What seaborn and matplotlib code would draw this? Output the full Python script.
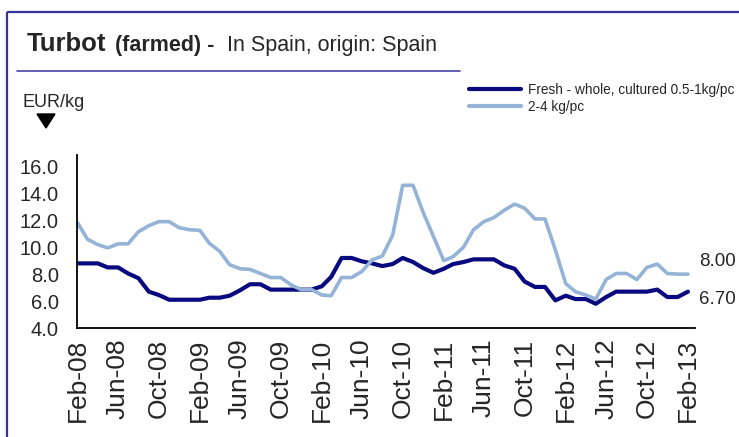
import pandas as pd
import numpy as np
import matplotlib.pyplot as plt
import seaborn as sns
from matplotlib.lines import Line2D
from matplotlib.patches import Polygon
from matplotlib.ticker import FormatStrFormatter

# monthly prices, Feb-08 .. Feb-13 (EUR/kg)
months = pd.date_range("2008-02-01", periods=61, freq="MS")
fresh_small = [8.8, 8.8, 8.8, 8.5, 8.5, 8.05, 7.7, 6.7, 6.45, 6.1,
               6.1, 6.1, 6.1, 6.25, 6.25, 6.4, 6.8, 7.25, 7.25, 6.85,
               6.85, 6.85, 6.85, 6.85, 7.1, 7.8, 9.2, 9.2, 8.95, 8.8,
               8.6, 8.75, 9.2, 8.9, 8.45, 8.1, 8.4, 8.75, 8.9, 9.1,
               9.1, 9.1, 8.65, 8.4, 7.45, 7.05, 7.05, 6.05, 6.4, 6.15,
               6.15, 5.8, 6.3, 6.7, 6.7, 6.7, 6.7, 6.85, 6.3, 6.3,
               6.7]
fresh_large = [11.8, 10.6, 10.2, 9.95, 10.25, 10.25, 11.15, 11.6, 11.9, 11.9,
               11.45, 11.3, 11.25, 10.3, 9.7, 8.7, 8.4, 8.35, 8.05, 7.75,
               7.75, 7.2, 6.85, 6.85, 6.45, 6.4, 7.75, 7.75, 8.2, 9.05,
               9.35, 10.9, 14.6, 14.6, 12.6, 10.8, 9.0, 9.3, 10.0, 11.3,
               11.9, 12.2, 12.75, 13.2, 12.9, 12.1, 12.1, 9.8, 7.3, 6.7,
               6.45, 6.15, 7.6, 8.05, 8.05, 7.6, 8.5, 8.75, 8.05, 8.0,
               8.0]
series_names = ["Fresh - whole, cultured 0.5-1kg/pc", "2-4 kg/pc"]
tick_labels = ["Feb-08", "Jun-08", "Oct-08", "Feb-09", "Jun-09", "Oct-09",
               "Feb-10", "Jun-10", "Oct-10", "Feb-11", "Jun-11", "Oct-11",
               "Feb-12", "Jun-12", "Oct-12", "Feb-13"]
y_ticks = [4, 6, 8, 10, 12, 14, 16]

df = pd.DataFrame({"month": months, "small": fresh_small, "large": fresh_large})

sns.set_style("white")
plt.rcParams["font.family"] = ["Liberation Sans", "DejaVu Sans"]

W, H = 739, 437
fig = plt.figure(figsize=(W / 100, H / 100), dpi=100)
ax = fig.add_axes([77 / W, 1 - 328 / H, (695 - 77) / W, (328 - 155) / H])

dark = "#0a0a80"
light = "#95b3d7"
sns.lineplot(data=df, x="month", y="small", color=dark, lw=3.0, ax=ax,
             label=series_names[0], legend=False)
sns.lineplot(data=df, x="month", y="large", color=light, lw=2.6, ax=ax,
             label=series_names[1], legend=False)

ax.set_xlim(months[0] - pd.Timedelta(days=2), months[-1] + pd.Timedelta(days=21))
ax.set_ylim(4, 16.85)
ax.set_yticks(y_ticks)
ax.yaxis.set_major_formatter(FormatStrFormatter("%.1f"))
ax.set_xticks(months[::4])
ax.set_xticklabels(tick_labels, rotation=90)
ax.set_xlabel("")
ax.set_ylabel("")
sns.despine(ax=ax)
for s in ["left", "bottom"]:
    ax.spines[s].set_color("black")
    ax.spines[s].set_linewidth(1.3)
ax.tick_params(axis="both", direction="out", length=6, width=1.2, color="black")
ax.tick_params(axis="y", labelsize=14.5, pad=7)
ax.tick_params(axis="x", labelsize=19, pad=1.5)

# end-of-series value labels
ax.annotate(f"{fresh_large[-1]:.2f}", xy=(months[-1], fresh_large[-1]),
            xytext=(8, 9), textcoords="offset points", va="center", ha="left",
            fontsize=13.5)
ax.annotate(f"{fresh_small[-1]:.2f}", xy=(months[-1], fresh_small[-1]),
            xytext=(8, -6), textcoords="offset points", va="center", ha="left",
            fontsize=13.5)

# legend
handles = [Line2D([], [], color=dark, lw=3), Line2D([], [], color=light, lw=3)]
fig.legend(handles, series_names, loc="upper left",
           bbox_to_anchor=(469 / W, 1 - 83 / H), frameon=False, fontsize=9.8,
           handlelength=3.8, handletextpad=0.5, labelspacing=0.2,
           borderpad=0, borderaxespad=0)

# frame and header
border = "#3333a0"
fig.add_artist(Line2D([7 / W, 1], [1 - 12 / H, 1 - 12 / H], color=border, lw=1.6,
                      solid_capstyle="butt"))
fig.add_artist(Line2D([7 / W, 7 / W], [0, 1 - 12 / H], color=border, lw=1.6,
                      solid_capstyle="butt"))
fig.add_artist(Line2D([17 / W, 460 / W], [1 - 71 / H, 1 - 71 / H], color="#4646a8", lw=1.2))

fig.text(27 / W, 1 - 51 / H, "Turbot", fontsize=18.5, fontweight="bold", va="baseline")
fig.text(115 / W, 1 - 51 / H, "(farmed) -", fontsize=15.5, fontweight="bold", va="baseline")
fig.text(227 / W, 1 - 51 / H, "In Spain, origin: Spain", fontsize=15.5, va="baseline")
fig.text(22 / W, 1 - 107 / H, "EUR/kg", fontsize=13, va="baseline")
fig.add_artist(Polygon([[37 / W, 1 - 114 / H], [55 / W, 1 - 114 / H], [46 / W, 1 - 128 / H]],
                       closed=True, color="black", transform=fig.transFigure))

fig.savefig("out.png", dpi=100)
